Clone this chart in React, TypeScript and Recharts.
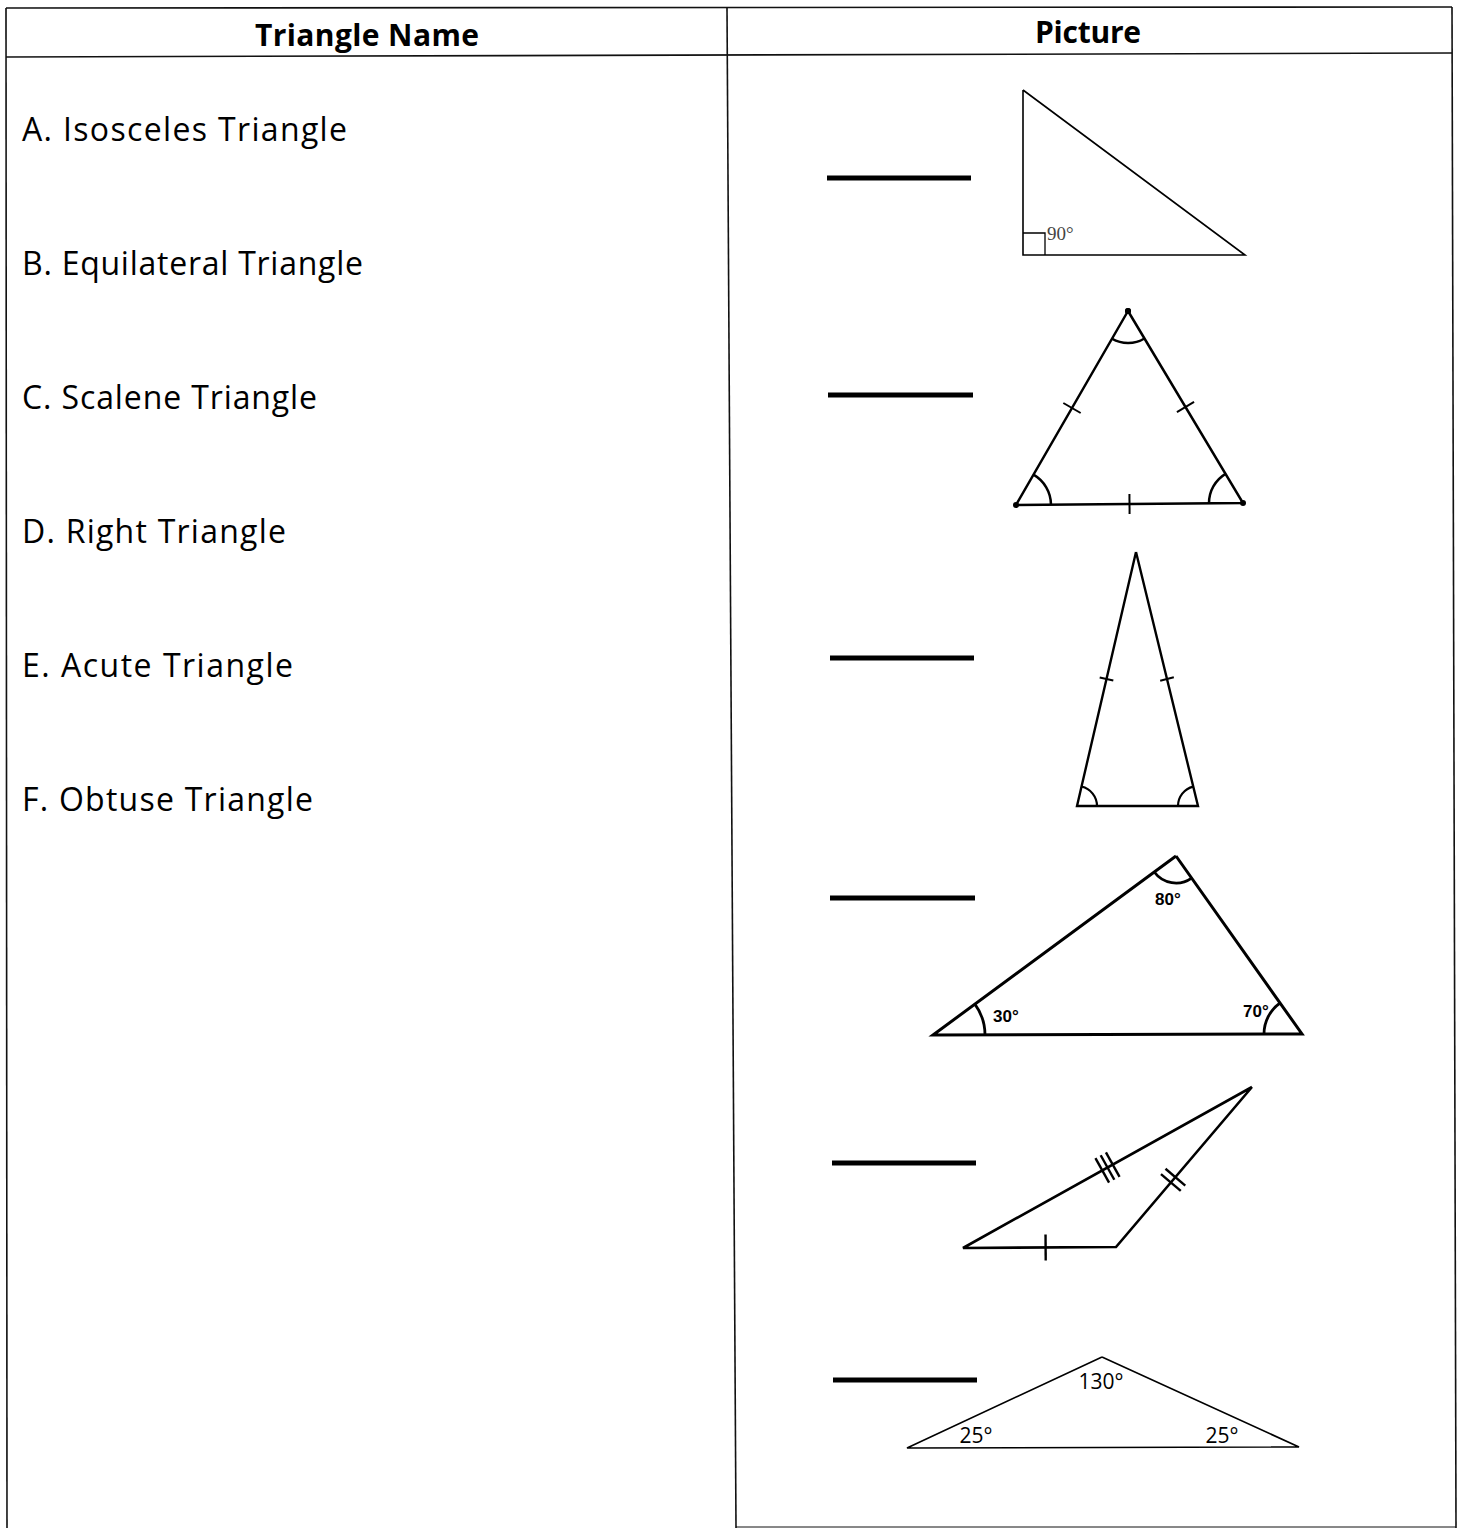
import { ComposedChart, Line, Scatter, XAxis, YAxis, ReferenceLine } from 'recharts';

const W = 1458;
const H = 1528;
const INK = '#000';
const NAME_FONT = '"Comic Sans MS", "Open Sans", sans-serif';

/* Worksheet text */
const HEADERS = ['Triangle Name', 'Picture'];
const NAMES = [
  'A. Isosceles Triangle',
  'B. Equilateral Triangle',
  'C. Scalene Triangle',
  'D. Right Triangle',
  'E. Acute Triangle',
  'F. Obtuse Triangle',
];
const RIGHT_LABEL = '90°';
const ACUTE_LABELS = ['80°', '30°', '70°'];
const WIDE_LABELS = ['130°', '25°', '25°'];

/* Triangle corners (page px, y down) */
const RIGHT = [{ x: 1023, y: 90 }, { x: 1023, y: 255 }, { x: 1245, y: 255 }];
const EQUI = [{ x: 1128, y: 311 }, { x: 1016, y: 505 }, { x: 1243, y: 503 }];
const TALL = [{ x: 1136, y: 552 }, { x: 1077, y: 806 }, { x: 1198, y: 806 }];
const ACUTE = [{ x: 1176, y: 856 }, { x: 933, y: 1035 }, { x: 1302, y: 1034 }];
const SLIM = [{ x: 1252, y: 1087 }, { x: 963, y: 1248 }, { x: 1116, y: 1247 }];
const WIDE = [{ x: 1102, y: 1357 }, { x: 907, y: 1448 }, { x: 1299, y: 1447 }];

/* Answer blanks: left end, right end, height */
const BLANK_X1 = [827, 828, 830, 830, 832, 833];
const BLANK_X2 = [971, 973, 974, 975, 976, 977];
const BLANK_Y = [178, 395, 658, 898, 1163, 1380];

const closed = (t: { x: number; y: number }[]) => [...t, t[0]];

// table rules
const RULES = [
  [{ x: 6, y: 8 }, { x: 1452, y: 7 }],
  [{ x: 6, y: 57 }, { x: 1452, y: 53 }],
  [{ x: 6, y: 8 }, { x: 7, y: 1528 }],
  [{ x: 727, y: 8 }, { x: 736, y: 1528 }],
  [{ x: 1452, y: 7 }, { x: 1456, y: 1528 }],
  [{ x: 736, y: 1527 }, { x: 1456, y: 1527 }],
];

type Pt = { x: number; y: number };

function arc(tri: Pt[], i: number, r: number, w: number) {
  const v = tri[i];
  const p = tri[(i + 1) % 3];
  const q = tri[(i + 2) % 3];
  return {
    x: v.x,
    y: v.y,
    r,
    w,
    a1: Math.atan2(p.y - v.y, p.x - v.x),
    a2: Math.atan2(q.y - v.y, q.x - v.x),
  };
}

function tick(tri: Pt[], i: number, n: number, len: number, w: number, t = 0.5, gap = 7) {
  const a = tri[i];
  const b = tri[(i + 1) % 3];
  return {
    x: a.x + (b.x - a.x) * t,
    y: a.y + (b.y - a.y) * t,
    ang: Math.atan2(b.y - a.y, b.x - a.x),
    n,
    len,
    gap,
    w,
  };
}

const ARCS = [
  arc(EQUI, 0, 32, 2.5),
  arc(EQUI, 1, 35, 2.5),
  arc(EQUI, 2, 34, 2.5),
  arc(TALL, 1, 20, 2.2),
  arc(TALL, 2, 20, 2.2),
  arc(ACUTE, 0, 27, 2.8),
  arc(ACUTE, 1, 52, 2.8),
  arc(ACUTE, 2, 38, 2.8),
];

const TICKS = [
  tick(EQUI, 0, 1, 20, 2),
  tick(EQUI, 1, 1, 20, 2),
  tick(EQUI, 2, 1, 20, 2),
  tick(TALL, 0, 1, 14, 2),
  tick(TALL, 2, 1, 14, 2),
  tick(SLIM, 0, 3, 28, 2.4, 0.5, 6),
  tick(SLIM, 1, 1, 26, 2.4, 0.54),
  tick(SLIM, 2, 2, 26, 2.4, 0.42, 7),
];

const SQUARES = [{ x: RIGHT[1].x, y: RIGHT[1].y, s: 22 }];

const SANS = '"Liberation Sans", Arial, sans-serif';

const LABELS = [
  { x: 367, y: 46, text: HEADERS[0], size: 30, weight: 700, font: NAME_FONT, anchor: 'middle', len: 224 },
  { x: 1088, y: 43, text: HEADERS[1], size: 30, weight: 700, font: NAME_FONT, anchor: 'middle', len: 106 },
  ...NAMES.map((text, i) => ({
    x: 22,
    y: 141 + i * 134,
    text,
    size: 32,
    weight: 400,
    font: NAME_FONT,
    anchor: 'start',
    len: [325, 341, 295, 264, 271, 291][i],
  })),
  { x: 1047, y: 240, text: RIGHT_LABEL, size: 19, weight: 400, font: '"Liberation Serif", serif', anchor: 'start', fill: '#444' },
  { x: 1155, y: 905, text: ACUTE_LABELS[0], size: 17, weight: 700, font: SANS, anchor: 'start' },
  { x: 993, y: 1022, text: ACUTE_LABELS[1], size: 17, weight: 700, font: SANS, anchor: 'start' },
  { x: 1243, y: 1017, text: ACUTE_LABELS[2], size: 17, weight: 700, font: SANS, anchor: 'start' },
  { x: 1101, y: 1389, text: WIDE_LABELS[0], size: 21, weight: 400, font: '"Open Sans", sans-serif', anchor: 'middle' },
  { x: 976, y: 1443, text: WIDE_LABELS[1], size: 21, weight: 400, font: '"Open Sans", sans-serif', anchor: 'middle' },
  { x: 1222, y: 1443, text: WIDE_LABELS[2], size: 21, weight: 400, font: '"Open Sans", sans-serif', anchor: 'middle' },
];

const TextMark = (p: any) => {
  const d = p.payload;
  return (
    <text
      x={p.cx}
      y={p.cy}
      textAnchor={d.anchor}
      fontFamily={d.font}
      fontSize={d.size}
      fontWeight={d.weight}
      fill={d.fill ?? INK}
      textLength={d.len}
      lengthAdjust={d.len ? 'spacing' : undefined}
    >
      {d.text}
    </text>
  );
};

const ArcMark = (p: any) => {
  const { r, a1, a2, w } = p.payload;
  const sx = p.cx + r * Math.cos(a1);
  const sy = p.cy + r * Math.sin(a1);
  const ex = p.cx + r * Math.cos(a2);
  const ey = p.cy + r * Math.sin(a2);
  const sweep = Math.sin(a2 - a1) > 0 ? 1 : 0;
  return <path d={`M${sx},${sy} A${r},${r} 0 0 ${sweep} ${ex},${ey}`} fill="none" stroke={INK} strokeWidth={w} />;
};

const TickMark = (p: any) => {
  const { ang, n, len, gap, w } = p.payload;
  const ux = Math.cos(ang);
  const uy = Math.sin(ang);
  const segs = [];
  for (let k = 0; k < n; k++) {
    const o = (k - (n - 1) / 2) * gap;
    const mx = p.cx + ux * o;
    const my = p.cy + uy * o;
    segs.push(
      <line
        key={k}
        x1={mx - uy * len / 2}
        y1={my + ux * len / 2}
        x2={mx + uy * len / 2}
        y2={my - ux * len / 2}
        stroke={INK}
        strokeWidth={w}
      />
    );
  }
  return <g>{segs}</g>;
};

const SquareMark = (p: any) => {
  const s = p.payload.s;
  return <path d={`M${p.cx},${p.cy - s} H${p.cx + s} V${p.cy}`} fill="none" stroke={INK} strokeWidth={1.3} />;
};

const TRIANGLES = [
  { data: RIGHT, w: 1.6 },
  { data: EQUI, w: 2.5 },
  { data: TALL, w: 2.4 },
  { data: ACUTE, w: 3 },
  { data: SLIM, w: 2.6 },
  { data: WIDE, w: 1.6 },
];

export default function App() {
  return (
    <div style={{ position: 'absolute', left: 0, top: 0, width: W, height: H, background: '#fff' }}>
      <ComposedChart width={W} height={H} margin={{ top: 0, right: 0, bottom: 0, left: 0 }}>
        <XAxis type="number" dataKey="x" domain={[0, W]} allowDataOverflow hide />
        <YAxis type="number" dataKey="y" domain={[0, H]} allowDataOverflow reversed hide width={0} />

        {RULES.map((seg, i) => (
          <ReferenceLine key={`r${i}`} segment={seg} stroke="#111" strokeWidth={i === 5 ? 1 : 1.6} ifOverflow="visible" />
        ))}

        {BLANK_Y.map((y, i) => (
          <ReferenceLine
            key={`b${i}`}
            segment={[{ x: BLANK_X1[i], y }, { x: BLANK_X2[i], y }]}
            stroke={INK}
            strokeWidth={5}
            ifOverflow="visible"
          />
        ))}

        {TRIANGLES.map((t, i) => (
          <Line
            key={`t${i}`}
            data={closed(t.data)}
            dataKey="y"
            stroke={INK}
            strokeWidth={t.w}
            strokeLinejoin="miter"
            dot={i === 1 ? { r: 3, fill: INK, stroke: 'none' } : false}
            activeDot={false}
            legendType="none"
            isAnimationActive={false}
          />
        ))}

        <Scatter data={ARCS} shape={ArcMark} isAnimationActive={false} legendType="none" />
        <Scatter data={TICKS} shape={TickMark} isAnimationActive={false} legendType="none" />
        <Scatter data={SQUARES} shape={SquareMark} isAnimationActive={false} legendType="none" />
        <Scatter data={LABELS} shape={TextMark} isAnimationActive={false} legendType="none" />
      </ComposedChart>
    </div>
  );
}
